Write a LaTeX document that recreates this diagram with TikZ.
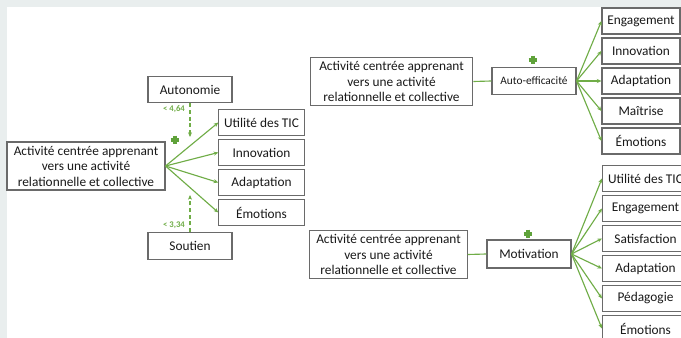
\documentclass[tikz,border=0pt]{standalone}
\usepackage{fontspec}
\setmainfont{Carlito}
\usetikzlibrary{arrows.meta,positioning}
\definecolor{boxgray}{HTML}{6A6A6A}
\definecolor{leafgreen}{HTML}{70AD47}
\definecolor{plusgreen}{HTML}{5FA23A}
\definecolor{bggray}{HTML}{E9EEEE}
\tikzset{
  box/.style={draw=boxgray, line width=0.8pt, fill=white, inner sep=0pt, align=center,
    text=black!90, font=\fontsize{10}{11.6}\selectfont},
  actbox/.style={box, minimum height=36pt},
  midbox/.style={box, minimum width=63pt, minimum height=20pt},
  leaf/.style={box, minimum width=64pt, minimum height=19.5pt},
  link/.style={-{Stealth[length=3.5pt,width=3pt]}, leafgreen, line width=0.85pt},
  dashlink/.style={link, dash pattern=on 3pt off 2pt},
  plain link/.style={leafgreen, line width=0.85pt},
  cut/.style={text=leafgreen, font=\fontsize{6.5}{7}\bfseries\selectfont, inner sep=0pt},
  plus/.style={minimum size=6.5pt, inner sep=0pt,
    path picture={\draw[plusgreen, line width=2.6pt]
      (path picture bounding box.north) -- (path picture bounding box.south)
      (path picture bounding box.west) -- (path picture bounding box.east);}},
}

\begin{document}
\begin{tikzpicture}[x=0.75pt, y=-0.75pt]
  % Background
  \useasboundingbox (0,0) rectangle (681,338);
  \fill[bggray] (0,0) rectangle (681,338);
  \fill[white] (7,7) rectangle (681,338);

  % Left: activity with moderators
  \node[actbox, minimum width=118.5pt] (act1) at (86,166)
    {Activité centrée apprenant\\vers une activité\\relationnelle et collective};
  \node[midbox] (auto) at (190,89.5) {Autonomie};
  \node[midbox] (sout) at (190,246) {Soutien};
  \coordinate (autoend) at (190,137);
  \coordinate (soutend) at (190,195);
  \draw[dashlink] (auto.south) -- (autoend);
  \draw[dashlink] (sout.north) -- (soutend);
  \node[cut] (cutA) at (174,109) {< 4,64};
  \node[cut] (cutS) at (174,225) {< 3,34};
  \node[plus] (plusL) at (175,140) {};
  \foreach \nm/\txt [count=\i] in {utilL/Utilité des TIC, innoL/Innovation,
      adapL/Adaptation, emoL/Émotions} {
    \node[leaf] (\nm) at (261.5,92.5+30*\i) {\txt};
    \draw[link] (act1.east) -- (\nm.west);
  }

  % Top right: self-efficacy
  \node[actbox, minimum width=122pt] (act2) at (391.5,81.5)
    {Activité centrée apprenant\\vers une activité\\relationnelle et collective};
  \node[midbox, font=\fontsize{8.5}{10}\selectfont] (effi) at (534,81) {Auto-efficacité};
  \draw[plain link] (act2.east) -- (effi.west);
  \node[plus] (plusT) at (533,60) {};
  \foreach \nm/\txt [count=\i] in {engT/Engagement, innoT/Innovation,
      adapT/Adaptation, maitT/Maîtrise, emoT/Émotions} {
    \node[leaf, minimum width=58.5pt] (\nm) at (641,-9+30*\i) {\txt};
    \draw[link] (effi.east) -- (\nm.west);
  }

  % Bottom right: motivation
  \node[actbox, minimum width=118pt] (act3) at (388.5,254.5)
    {Activité centrée apprenant\\vers une activité\\relationnelle et collective};
  \node[midbox, minimum height=21pt] (moti) at (529,254) {Motivation};
  \draw[plain link] (act3.east) -- (moti.west);
  \node[plus] (plusB) at (528,234) {};
  \foreach \nm/\txt [count=\i] in {utilB/Utilité des TIC, engB/Engagement,
      satB/Satisfaction, adapB/Adaptation, pedaB/Pédagogie, emoB/Émotions} {
    \node[leaf, minimum width=64.5pt] (\nm) at (645.5,148.5+30*\i) {\txt};
    \draw[link] (moti.east) -- (\nm.west);
  }
\end{tikzpicture}
\end{document}
